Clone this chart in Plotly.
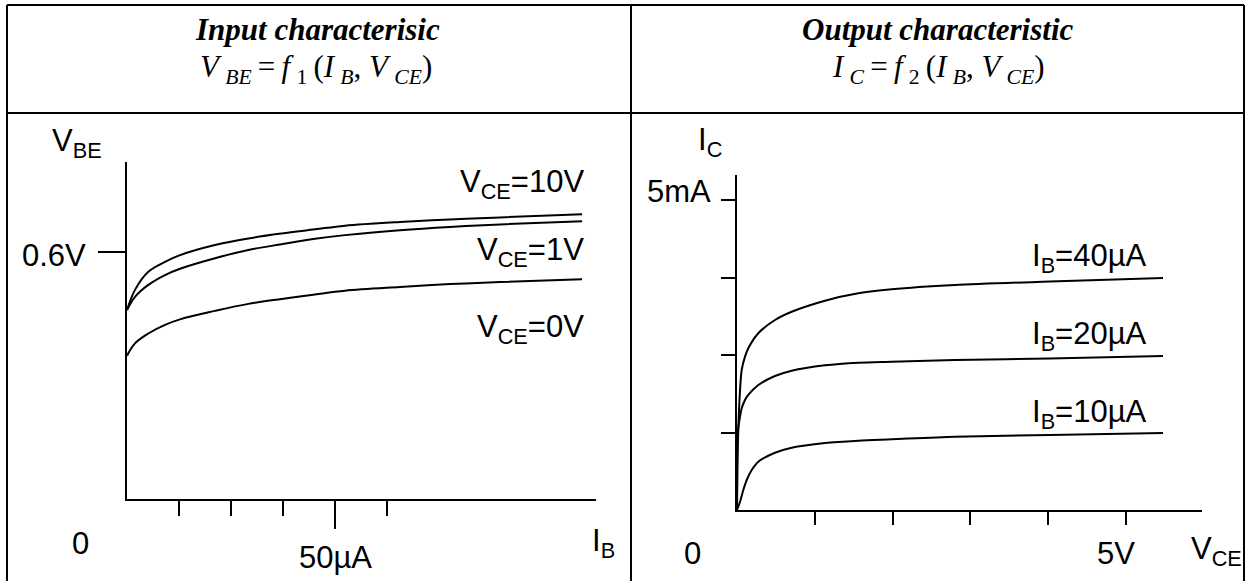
import plotly.graph_objects as go

W, H = 1252, 581

# ---------------- data ----------------
# Input characteristic: I_B in uA, V_BE in V
ib_in = [0, 1.92, 5.12, 9.13, 12.91, 21.15, 29.16, 37.19, 45.19, 52.4, 65.6, 77.6, 89.7, 109.4]
vbe_vce10 = [0.459, 0.508, 0.552, 0.576, 0.593, 0.617, 0.633, 0.645, 0.655, 0.664, 0.673, 0.679, 0.684, 0.692]
vbe_vce1 = [0.459, 0.491, 0.520, 0.544, 0.560, 0.585, 0.605, 0.619, 0.632, 0.641, 0.653, 0.661, 0.667, 0.675]
vbe_vce0 = [0.348, 0.378, 0.402, 0.423, 0.437, 0.457, 0.474, 0.486, 0.497, 0.506, 0.515, 0.522, 0.527, 0.534]
in_labels = ["V<sub>CE</sub>=10V", "V<sub>CE</sub>=1V", "V<sub>CE</sub>=0V"]

# Output characteristic: V_CE in V, I_C in mA
vce_40 = [0, 0.013, 0.032, 0.060, 0.103, 0.145, 0.274, 0.488, 0.703, 1.131, 1.559, 1.988, 2.802, 4.023, 5.476]
ic_40 = [0, 1.129, 1.774, 2.258, 2.473, 2.608, 2.850, 3.065, 3.198, 3.376, 3.495, 3.560, 3.629, 3.685, 3.742]
vce_20 = [0, 0.009, 0.039, 0.060, 0.103, 0.145, 0.274, 0.488, 0.703, 1.131, 1.559, 1.988, 2.802, 4.023, 5.476]
ic_20 = [0, 1.237, 1.505, 1.640, 1.774, 1.855, 2.016, 2.161, 2.247, 2.334, 2.376, 2.392, 2.419, 2.444, 2.484]
vce_10 = [0, 0.039, 0.081, 0.125, 0.189, 0.274, 0.488, 0.703, 1.131, 1.559, 1.988, 2.802, 4.023, 5.476]
ic_10 = [0, 0.134, 0.323, 0.484, 0.645, 0.779, 0.924, 1.005, 1.081, 1.118, 1.140, 1.182, 1.210, 1.242]
out_labels = ["I<sub>B</sub>=40µA", "I<sub>B</sub>=20µA", "I<sub>B</sub>=10µA"]

in_xticks_minor = [12.5, 25, 37.5, 62.5]
in_xtick_major = [50]
in_ytick = [0.6]
out_yticks = [1.25, 2.5, 3.75, 5]
out_xticks = [1, 2, 3, 4, 5]


def px(x):
    return x / W


def py(y):
    return 1 - y / H


fig = go.Figure()
line = dict(color="black", width=2)
for yv in [vbe_vce10, vbe_vce1, vbe_vce0]:
    fig.add_trace(go.Scatter(x=ib_in, y=yv, mode="lines", line=dict(shape="spline", smoothing=1.0, **line),
                             xaxis="x", yaxis="y", showlegend=False, hoverinfo="skip"))
for xv, yv in [(vce_40, ic_40), (vce_20, ic_20), (vce_10, ic_10)]:
    fig.add_trace(go.Scatter(x=xv, y=yv, mode="lines", line=dict(shape="spline", smoothing=0.8, **line),
                             xaxis="x2", yaxis="y2", showlegend=False, hoverinfo="skip"))

ax_common = dict(showgrid=False, zeroline=False, showline=True, linecolor="black", linewidth=2,
                 ticks="outside", tickcolor="black", tickwidth=2, showticklabels=False, fixedrange=True)

fig.update_layout(
    width=W, height=H,
    margin=dict(l=0, r=0, t=0, b=0),
    paper_bgcolor="white", plot_bgcolor="white",
    xaxis=dict(domain=[px(127), px(596)], range=[0, (596 - 127) * 12.5 / 52], anchor="y",
               tickvals=in_xtick_major, ticklen=28,
               minor=dict(tickvals=in_xticks_minor, ticklen=15, ticks="outside", tickcolor="black", tickwidth=2),
               **ax_common),
    yaxis=dict(domain=[py(499), py(162)], range=[0, 0.6 * (499 - 162) / 247], anchor="x",
               tickvals=in_ytick, ticklen=27, **ax_common),
    xaxis2=dict(domain=[px(737), px(1202)], range=[0, (1202 - 737) / 77.8], anchor="y2",
                tickvals=out_xticks, ticklen=13, **ax_common),
    yaxis2=dict(domain=[py(510), py(175)], range=[0, 5 * (510 - 175) / 310], anchor="x2",
                tickvals=out_yticks, ticklen=14, **ax_common),
)

# table lines
shapes = []
def pline(x0, y0, x1, y1):
    shapes.append(dict(type="line", xref="paper", yref="paper", x0=px(x0), y0=py(y0), x1=px(x1), y1=py(y1),
                       line=dict(color="black", width=2)))
pline(7, 5, 1244, 5)
pline(7, 113, 1244, 113)
pline(7, 5, 7, 581)
pline(631, 5, 631, 581)
pline(1244, 5, 1244, 581)
fig.update_layout(shapes=shapes)

sans = "Liberation Sans, Arial, sans-serif"
serif = "Liberation Serif, Times New Roman, serif"
ann = []
def txt(t, x, y, xa="center", size=31, fam=sans):
    ann.append(dict(text=t, x=px(x), y=py(y), xref="paper", yref="paper", xanchor=xa, yanchor="middle",
                    showarrow=False, font=dict(family=fam, size=size, color="black")))

# headers
sp = "\u2009"
txt("<b><i>Input characterisic</i></b>", 317, 30, size=31, fam=serif)
txt("<i>V</i>" + sp + "<sub><i>BE</i></sub>" + sp + "=" + sp + "<i>f</i>" + sp + "<sub>1</sub>" + sp + "(<i>I</i>" + sp
    + "<sub><i>B</i></sub>, <i>V</i>" + sp + "<sub><i>CE</i></sub>)", 316, 69, size=31, fam=serif)
txt("<b><i>Output characteristic</i></b>", 938, 30, size=31, fam=serif)
txt("<i>I</i>" + sp + "<sub><i>C</i></sub>" + sp + "=" + sp + "<i>f</i>" + sp + "<sub>2</sub>" + sp + "(<i>I</i>" + sp
    + "<sub><i>B</i></sub>, <i>V</i>" + sp + "<sub><i>CE</i></sub>)", 938, 69, size=31, fam=serif)

# left panel labels
txt("V<sub>BE</sub>", 50, 143, xa="left")
txt("0.6V", 88, 256, xa="right")
txt(in_labels[0], 586, 184, xa="right")
txt(in_labels[1], 586, 252, xa="right")
txt(in_labels[2], 586, 329, xa="right")
txt("0", 81, 543)
txt("50µA", 335, 557)
txt("I<sub>B</sub>", 590, 543, xa="left")

# right panel labels
txt("I<sub>C</sub>", 696, 142, xa="left")
txt("5mA", 713, 191, xa="right")
txt(out_labels[0], 1149, 258, xa="right")
txt(out_labels[1], 1149, 336, xa="right")
txt(out_labels[2], 1149, 414, xa="right")
txt("0", 692, 553)
txt("5V", 1116, 553)
txt("V<sub>CE</sub>", 1189, 551, xa="left")

fig.update_layout(annotations=ann)
fig.write_html("out.html", config={"displayModeBar": False},
               post_script="document.body.style.margin='0px';document.body.style.overflow='hidden';")
